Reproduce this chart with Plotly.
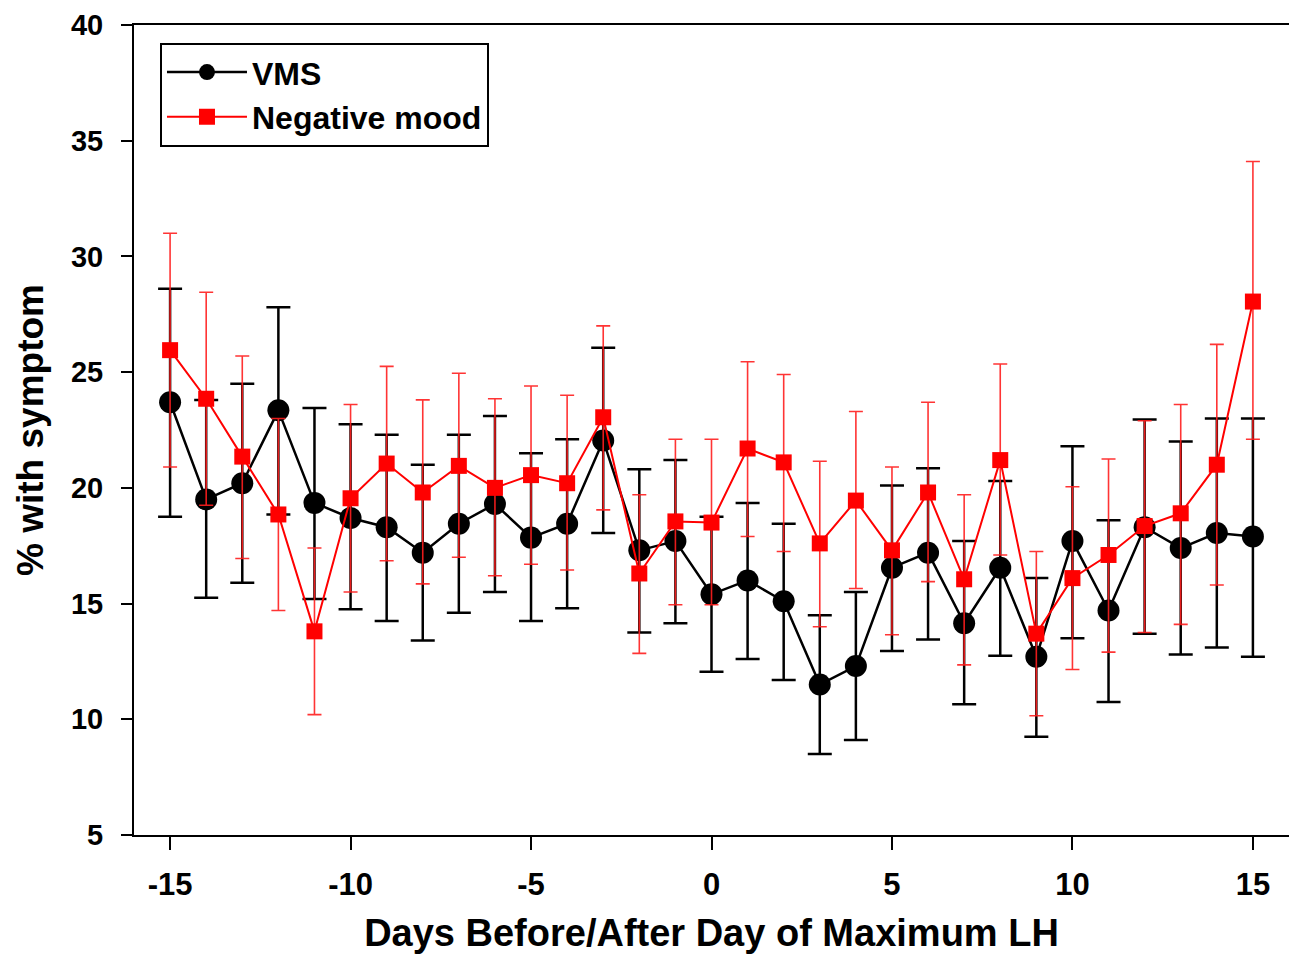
import plotly.graph_objects as go

days = list(range(-15, 16))

vms_mean = [23.7, 19.5, 20.2, 23.35, 19.35, 18.7, 18.3, 17.2, 18.45, 19.3, 17.85, 18.45, 22.05,
            17.3, 17.7, 15.4, 16.0, 15.1, 11.5, 12.3, 16.55, 17.2, 14.15, 16.55, 12.7, 17.7,
            14.7, 18.3, 17.4, 18.05, 17.9]
vms_upper = [28.6, 23.8, 24.5, 27.8, 23.45, 22.75, 22.3, 21.0, 22.3, 23.1, 21.5, 22.1, 26.05,
             20.8, 21.2, 18.75, 19.35, 18.45, 14.5, 15.5, 20.1, 20.85, 17.7, 20.3, 16.1, 21.8,
             18.6, 22.95, 22.0, 23.0, 23.0]
vms_lower = [18.75, 15.25, 15.9, 18.85, 15.2, 14.75, 14.25, 13.4, 14.6, 15.5, 14.25, 14.8, 18.05,
             13.75, 14.15, 12.05, 12.6, 11.7, 8.5, 9.1, 12.95, 13.45, 10.65, 12.75, 9.25, 13.5,
             10.75, 13.7, 12.8, 13.1, 12.7]

mood_mean = [25.95, 23.85, 21.35, 18.85, 13.8, 19.55, 21.05, 19.8, 20.95, 20.0, 20.55, 20.2, 23.05,
             16.3, 18.55, 18.5, 21.7, 21.1, 17.6, 19.45, 17.3, 19.8, 16.05, 21.2, 13.7, 16.1,
             17.1, 18.35, 18.9, 21.0, 28.05]
mood_upper = [31.0, 28.45, 25.7, 23.0, 17.4, 23.6, 25.25, 23.8, 24.95, 23.85, 24.4, 24.0, 27.0,
              19.7, 22.1, 22.1, 25.45, 24.9, 21.15, 23.3, 20.9, 23.7, 19.7, 25.35, 17.25, 20.05,
              21.25, 22.9, 23.6, 26.2, 34.1]
mood_lower = [20.9, 19.25, 16.95, 14.7, 10.2, 15.5, 16.85, 15.85, 17.0, 16.2, 16.7, 16.45, 19.05,
              12.85, 14.95, 14.95, 17.9, 17.25, 14.0, 15.65, 13.65, 15.95, 12.35, 17.1, 10.15, 12.15,
              12.9, 13.75, 14.1, 15.8, 22.1]

x_tick_vals = [-15, -10, -5, 0, 5, 10, 15]
x_tick_text = ["-15", "-10", "-5", "0", "5", "10", "15"]
y_tick_vals = [5, 10, 15, 20, 25, 30, 35, 40]
y_tick_text = ["5", "10", "15", "20", "25", "30", "35", "40"]

def diffs(hi, mid):
    return [round(h - m, 3) for h, m in zip(hi, mid)]

FONT = "Liberation Sans, Arial, sans-serif"

fig = go.Figure()
fig.add_trace(go.Scatter(
    x=days, y=vms_mean, name="VMS", mode="lines+markers",
    line=dict(color="black", width=2.5),
    marker=dict(symbol="circle", size=22, color="black"),
    error_y=dict(type="data", symmetric=False,
                 array=diffs(vms_upper, vms_mean),
                 arrayminus=diffs(vms_mean, vms_lower),
                 color="black", thickness=2.5, width=12),
))
fig.add_trace(go.Scatter(
    x=days, y=mood_mean, name="Negative mood", mode="lines+markers",
    line=dict(color="#ff0000", width=2),
    marker=dict(symbol="square", size=16, color="#ff0000"),
    error_y=dict(type="data", symmetric=False,
                 array=diffs(mood_upper, mood_mean),
                 arrayminus=diffs(mood_mean, mood_lower),
                 color="rgba(255,30,30,0.9)", thickness=1.6, width=7),
))

# page body adds an 8px margin around the figure, so the figure is 16px smaller
fig.update_layout(
    width=1281, height=946,
    margin=dict(l=126, r=0, t=17, b=119),
    paper_bgcolor="white", plot_bgcolor="white",
    font=dict(family=FONT, color="black", size=30, weight="bold"),
    showlegend=True,
    legend=dict(x=0.0225, y=0.978, xanchor="left", yanchor="top",
                bordercolor="black", borderwidth=2, bgcolor="white",
                font=dict(family=FONT, size=32, color="black", weight="bold"),
                itemsizing="trace", itemwidth=80, tracegroupgap=0),
)
fig.update_xaxes(
    range=[-16, 16], tickvals=x_tick_vals, ticktext=x_tick_text,
    ticks="outside", ticklen=13, tickwidth=2,
    tickcolor="black", showline=True, linecolor="black", linewidth=2, mirror=True,
    showgrid=False, zeroline=False, automargin=False, ticklabelstandoff=8,
    ticklabeloverflow="allow",
    tickfont=dict(family=FONT, size=31, weight="bold"),
    title=dict(text="Days Before/After Day of Maximum LH", standoff=20,
               font=dict(family=FONT, size=38, weight="bold")),
)
fig.update_yaxes(
    range=[5, 40], tickvals=y_tick_vals, ticktext=y_tick_text,
    ticks="outside", ticklen=11, tickwidth=2,
    tickcolor="black", showline=True, linecolor="black", linewidth=2, mirror=True,
    showgrid=False, zeroline=False, automargin=False, ticklabelstandoff=12,
    ticklabeloverflow="allow",
    tickfont=dict(family=FONT, size=29, weight="bold"),
    title=dict(text="% with symptom", standoff=16,
               font=dict(family=FONT, size=37, weight="bold")),
)

fig.write_html("out.html")
